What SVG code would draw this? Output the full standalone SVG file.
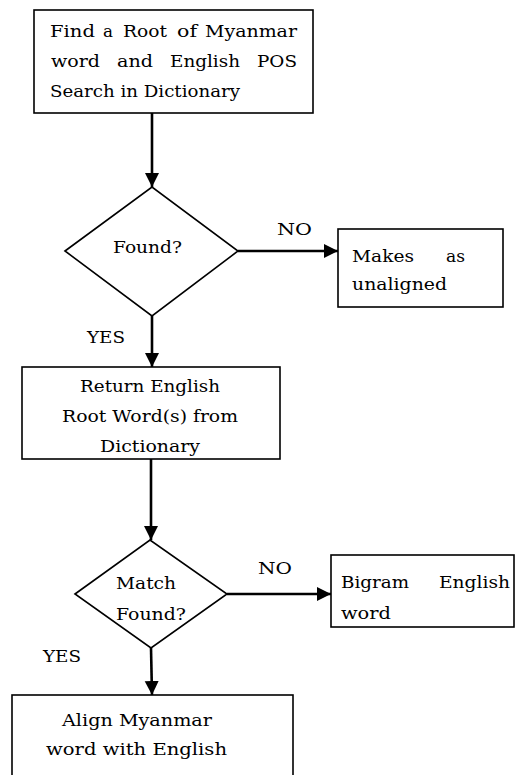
<svg xmlns="http://www.w3.org/2000/svg" width="515" height="775" viewBox="0 0 515 775">
<style>
.box{fill:#fff;stroke:#000;stroke-width:1.6}
.dia{fill:#fff;stroke:#000;stroke-width:1.6}
.t{font-family:"DejaVu Serif","Liberation Serif",serif;font-size:17px;fill:#000}
.c{fill:none;stroke:#000;stroke-width:2.6}
</style>
<defs>
<marker id="ah" markerUnits="userSpaceOnUse" markerWidth="16" markerHeight="16" refX="14" refY="7" orient="auto">
<path d="M0,0 L14,7 L0,14 z" fill="#000"/>
</marker>
</defs>
<rect width="515" height="775" fill="#fff"/>
<g id="connectors">
<line class="c" x1="152" y1="113" x2="152" y2="187" marker-end="url(#ah)"/>
<line class="c" x1="238" y1="251" x2="338" y2="251" marker-end="url(#ah)"/>
<line class="c" x1="152" y1="316" x2="152" y2="367" marker-end="url(#ah)"/>
<line class="c" x1="151" y1="459" x2="151" y2="540" marker-end="url(#ah)"/>
<line class="c" x1="227" y1="594" x2="331" y2="594" marker-end="url(#ah)"/>
<line class="c" x1="151" y1="648" x2="152" y2="695" marker-end="url(#ah)"/>
<text class="t" x="277" y="235" textLength="35" lengthAdjust="spacingAndGlyphs">NO</text>
<text class="t" x="87" y="343" textLength="38" lengthAdjust="spacingAndGlyphs">YES</text>
<text class="t" x="258" y="574" textLength="34" lengthAdjust="spacingAndGlyphs">NO</text>
<text class="t" x="43" y="662" textLength="38" lengthAdjust="spacingAndGlyphs">YES</text>
</g>
<g id="n1">
<rect class="box" x="34" y="10" width="279" height="103"/>
<text class="t" y="37"><tspan x="50" textLength="45" lengthAdjust="spacingAndGlyphs">Find</tspan><tspan x="103" textLength="10" lengthAdjust="spacingAndGlyphs">a</tspan><tspan x="123" textLength="44" lengthAdjust="spacingAndGlyphs">Root</tspan><tspan x="177" textLength="20" lengthAdjust="spacingAndGlyphs">of</tspan><tspan x="205" textLength="92" lengthAdjust="spacingAndGlyphs">Myanmar</tspan></text>
<text class="t" y="67"><tspan x="51" textLength="49" lengthAdjust="spacingAndGlyphs">word</tspan><tspan x="117" textLength="36" lengthAdjust="spacingAndGlyphs">and</tspan><tspan x="170" textLength="70" lengthAdjust="spacingAndGlyphs">English</tspan><tspan x="257" textLength="40" lengthAdjust="spacingAndGlyphs">POS</tspan></text>
<text class="t" x="50" y="97" textLength="190" lengthAdjust="spacingAndGlyphs">Search in Dictionary</text>
</g>
<g id="n2">
<polygon class="dia" points="65,251 152,187 238,251 152,316"/>
<text class="t" x="113" y="253" textLength="69" lengthAdjust="spacingAndGlyphs">Found?</text>
</g>
<g id="n3">
<rect class="box" x="338" y="229" width="165" height="78"/>
<text class="t" y="262"><tspan x="352" textLength="62" lengthAdjust="spacingAndGlyphs">Makes</tspan><tspan x="446" textLength="19" lengthAdjust="spacingAndGlyphs">as</tspan></text>
<text class="t" x="352" y="290" textLength="95" lengthAdjust="spacingAndGlyphs">unaligned</text>
</g>
<g id="n4">
<rect class="box" x="22" y="367" width="258" height="92"/>
<text class="t" x="80" y="392" textLength="140" lengthAdjust="spacingAndGlyphs">Return English</text>
<text class="t" x="62" y="422" textLength="176" lengthAdjust="spacingAndGlyphs">Root Word(s) from</text>
<text class="t" x="100" y="452" textLength="100" lengthAdjust="spacingAndGlyphs">Dictionary</text>
</g>
<g id="n5">
<polygon class="dia" points="75,594 150,540 227,594 151,648"/>
<text class="t" x="116" y="589" textLength="60" lengthAdjust="spacingAndGlyphs">Match</text>
<text class="t" x="116" y="620" textLength="70" lengthAdjust="spacingAndGlyphs">Found?</text>
</g>
<g id="n6">
<rect class="box" x="331" y="555" width="183" height="72"/>
<text class="t" y="588"><tspan x="341" textLength="68" lengthAdjust="spacingAndGlyphs">Bigram</tspan><tspan x="439" textLength="71" lengthAdjust="spacingAndGlyphs">English</tspan></text>
<text class="t" x="341" y="619" textLength="50" lengthAdjust="spacingAndGlyphs">word</text>
</g>
<g id="n7">
<rect class="box" x="12" y="695" width="281" height="90"/>
<text class="t" x="62" y="726" textLength="150" lengthAdjust="spacingAndGlyphs">Align Myanmar</text>
<text class="t" x="46" y="755" textLength="181" lengthAdjust="spacingAndGlyphs">word with  English</text>
</g>
</svg>
